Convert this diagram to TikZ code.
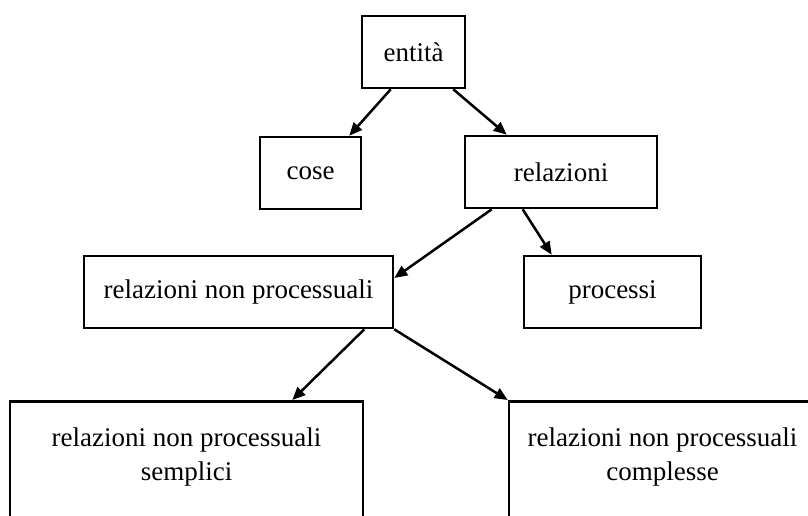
\documentclass[tikz,border=0pt]{standalone}
\usepackage{fontspec}
\setmainfont{Liberation Serif}
\usetikzlibrary{arrows.meta,calc}
\begin{document}
\begin{tikzpicture}[x=1pt,y=-1pt,
  box/.style={draw,line width=2.6pt,rectangle,inner sep=0pt,minimum height=72pt,
    font=\fontsize{27}{34}\selectfont},
  lbl/.style={inner sep=0pt,align=center,font=\fontsize{27}{34}\selectfont},
  link/.style={line width=2.5pt,-{Triangle[length=13pt,width=11pt]}}]
\useasboundingbox (0,0) rectangle (808,515);
\clip (0,0) rectangle (808,515);
% upper levels
\node[box,minimum width=103pt] (ent) at (413.5,52) {entità};
\node[box,minimum width=101pt] (cose) at (310.5,173) {cose};
\node[box,minimum width=192pt] (rel) at (561,172) {relazioni};
\node[box,minimum width=309pt] (rnp) at (238.5,292) {relazioni non processuali};
\node[box,minimum width=177pt] (proc) at (612.5,292) {processi};
% lower level: tall boxes running off the bottom edge
\node[box,minimum width=353pt,minimum height=160pt,anchor=north] (semp) at (186.5,400) {};
\node[lbl] (semptxt) at (186.5,457) {relazioni non processuali\\semplici};
\node[box,minimum width=308pt,minimum height=160pt,anchor=north] (comp) at (663,400) {};
\node[lbl] (comptxt) at (662.5,457) {relazioni non processuali\\complesse};
% connectors
\draw[link] ($(ent.south west)+(30,0)$) -- ($(cose.north east)+(-13,0)$);
\draw[link] ($(ent.south east)+(-13,0)$) -- ($(rel.north west)+(43,0)$);
\draw[link] ($(rel.south west)+(28,0)$) -- ($(rnp.east)+(0,-14)$);
\draw[link] ($(rel.south west)+(59,0)$) -- ($(proc.north west)+(29,0)$);
\draw[link] ($(rnp.south east)+(-30,0)$) -- ($(semp.north east)+(-72,0)$);
\draw[link] (rnp.south east) -- (comp.north west);
\end{tikzpicture}
\end{document}
